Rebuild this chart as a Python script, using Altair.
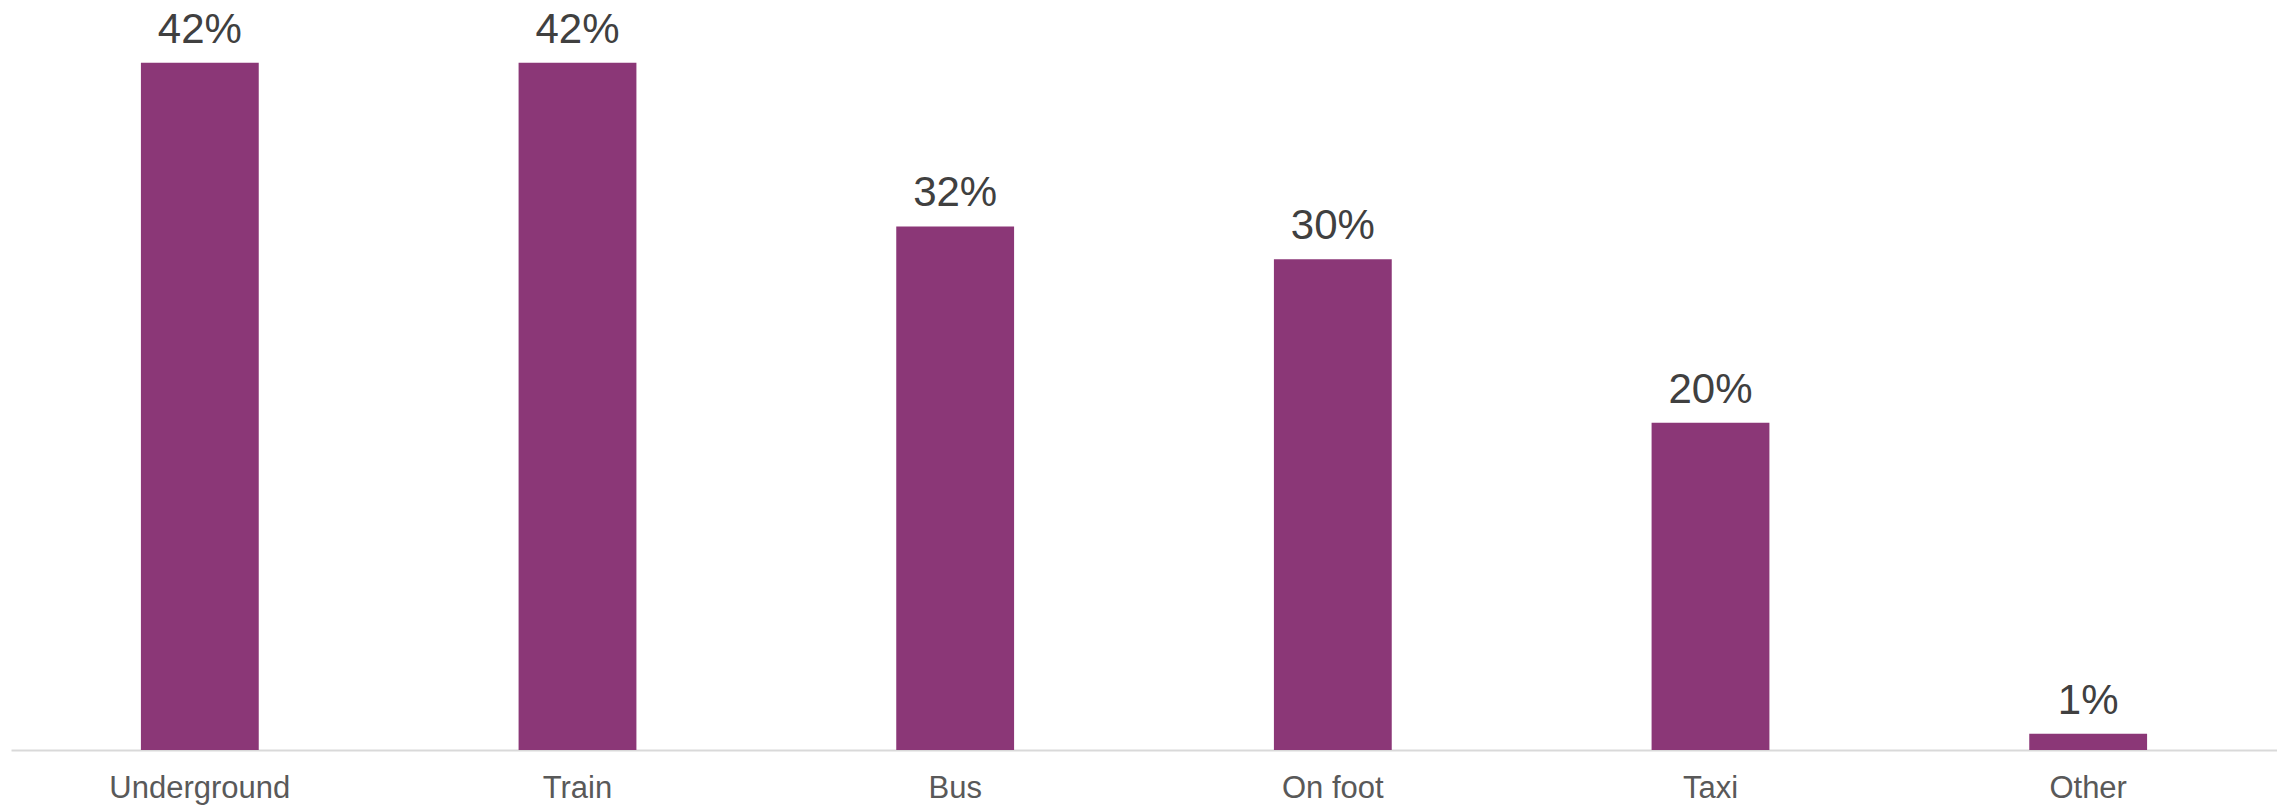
import altair as alt
import pandas as pd

categories = ["Underground", "Train", "Bus", "On foot", "Taxi", "Other"]
values = [42, 42, 32, 30, 20, 1]
labels = ["42%", "42%", "32%", "30%", "20%", "1%"]

df = pd.DataFrame({"cat": categories, "val": values, "lab": labels})

x = alt.X(
    "cat:N",
    sort=categories,
    title=None,
    scale=alt.Scale(paddingInner=0.688, paddingOuter=0.344),
    axis=alt.Axis(
        labelAngle=0,
        labelFont="Liberation Sans",
        labelFontSize=31,
        labelColor="#595959",
        labelBaseline="alphabetic",
        labelPadding=47,
        labelLimit=0,
        ticks=False,
        tickSize=0,
        domainColor="#D9D9D9",
        domainWidth=2,
        grid=False,
    ),
)
y = alt.Y("val:Q", title=None, scale=alt.Scale(domain=[0, 44.74], nice=False, zero=True), axis=None)

bars = alt.Chart(df).mark_bar(color="#8B3777").encode(x=x, y=y)
text = alt.Chart(df).mark_text(
    baseline="alphabetic", dy=-20, font="Liberation Sans", fontSize=42, color="#404040"
).encode(x=alt.X("cat:N", sort=categories), y="val:Q", text="lab:N")

chart = (
    alt.layer(bars, text)
    .properties(
        width=2266,
        height=732,
        background="white",
        padding={"left": 3, "top": 10, "right": 0, "bottom": 60},
        autosize=alt.AutoSizeParams(type="none"),
    )
    .configure_view(strokeWidth=0)
)
chart.save("out.html", embed_options={"renderer": "svg", "actions": False})
